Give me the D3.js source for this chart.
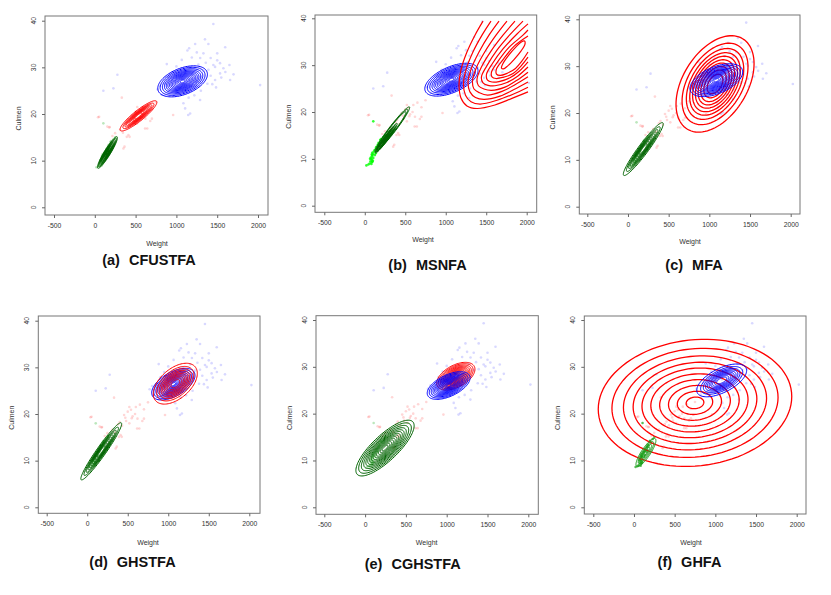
<html>
<head>
<script src="https://d3js.org/d3.v7.min.js"></script>
<style>
body { margin: 0; background: #fff; }
text { font-family: "Liberation Sans", Arial, sans-serif; }
</style>
</head>
<body>
<script>
const xTicks = [-500, 0, 500, 1000, 1500, 2000];
const yTicks = [0, 10, 20, 30, 40];
const panelTitles = [["(a)", "CFUSTFA"], ["(b)", "MSNFA"], ["(c)", "MFA"],
                     ["(d)", "GHSTFA"], ["(e)", "CGHSTFA"], ["(f)", "GHFA"]];

// hawks: [weight, culmen]
const rtPoints = [
  [1453,39.3],[1156,34.1],[1135,33.6],[1392,35.0],[1331,33.0],[1598,34.3],[1066,31.6],[882,30.7],
  [1189,32.1],[1292,32.0],[1453,30.5],[1535,30.9],[1576,29.8],[1535,28.7],[1474,27.3],[1658,27.3],
  [1486,25.7],[2026,26.2],[1086,22.3],[1107,21.2],[1168,20.1],[1145,19.8],[821,24.1],[770,25.3],
  [105,25.0],[228,25.5],[277,28.4],[1290,23.0],[1474,30.1],[1392,29.5],[1420,28.2],[1360,31.0],
  [1250,33.2],[1180,30.0],[1000,30.2],[950,29.0],[900,27.8],[860,26.5],[800,26.0],[1550,27.8],
  [1600,29.0],[1380,26.5],[1300,25.0],[1220,24.0],[1150,23.5],[1000,24.5],[1050,25.5],[1100,26.5],
  [1150,27.5],[1200,28.5],[1000,27.0],[950,26.0],[1050,28.0],[1100,29.0],[1250,27.0],[1300,28.0],
  [1180,26.0],[1080,27.3],[1020,25.8],[1120,25.0],[900,24.8],[1420,32.0],[1500,33.0],[1650,30.5],
  [1700,28.5],[1350,36.0],[1230,35.0],[1500,31.5],[1330,29.3],[1270,30.6],[980,28.3],[1440,26.4]
];
const chPoints = [
  [53,19.4],[154,17.3],[176,17.1],[249,15.9],[216,15.3],[310,16.6],[331,23.5],[392,15.1],
  [351,12.6],[364,13.0],[426,15.1],[616,16.9],[643,16.9],[412,15.5],[455,19.8],[500,20.5],
  [540,20.9],[590,20.0],[549,19.1],[480,18.5],[520,18.0],[430,17.5],[600,21.5],[650,22.0],
  [700,21.0],[380,17.8],[560,19.5],[620,19.0],[470,19.2],[400,18.3],[960,19.8],[183,17.2],
  [40,19.3],[345,16.0],[700,19.0],[680,18.5],[750,22.5],[520,21.5]
];
const ssPoints = [
  [60,9.0],[70,9.5],[80,10.0],[85,9.3],[90,10.5],[95,10.8],[100,11.0],[75,10.3],[88,9.8],
  [92,11.3],[105,10.2],[110,11.5],[120,11.8],[130,12.0],[140,12.5],[150,12.2],[160,13.0],
  [170,13.4],[180,13.2],[190,14.0],[200,14.2],[125,10.8],[135,11.2],
  [155,11.8],[165,12.8],[210,13.8],[230,14.6],[250,15.0],[105,18.0],[45,8.8],
  [65,10.0],[85,10.9],[100,9.6],[20,8.6],[82,8.9],[95,9.4]
];

// contour radii (mahalanobis)
const levelsStd = [2.19, 1.85, 1.61, 1.42, 1.26, 1.1, 0.95, 0.8, 0.63, 0.44];
const levelsDense = [2.19, 1.98, 1.78, 1.6, 1.44, 1.3, 1.16, 1.03, 0.9, 0.77, 0.64, 0.5, 0.36, 0.22];
const levelsEven = [2.19, 1.88, 1.62, 1.4, 1.2, 1.0, 0.8, 0.6, 0.4, 0.2];
const levelsFew = [2.19, 1.7, 1.25, 0.85, 0.5];
const levelsOuter = [2.19, 1.95, 1.72];

// [component, mean weight, mean culmen, sd weight, sd culmen, rho, levels]
const contoursA = [
  ["blue", 1076, 27.0, 139, 1.52, 0.45, "dense"],
  ["red", 535, 19.6, 103, 1.48, 0.9, "std"],
  ["dkgreen", 155, 11.75, 56, 1.55, 0.93, "dense"]
];
const contoursB = [
  ["blue", 1070, 26.9, 150, 1.6, 0.55, "dense"],
  ["dkgreen", 340, 16.3, 98, 2.19, 0.97, "outer"],
  ["dkgreen", 265, 14.4, 62, 1.45, 0.97, "dense"]
];
const contoursC = [
  ["red", 1070, 26.2, 219, 4.7, 0.42, "std"],
  ["blue", 1086, 27.0, 148, 1.6, 0.5, "dense"],
  ["dkgreen", 188, 12.3, 112, 2.58, 0.95, "std"]
];
const contoursD = [
  ["blue", 1063, 26.4, 122, 1.55, 0.55, "dense"],
  ["red", 1087, 26.5, 124, 2.0, 0.5, "std"],
  ["dkgreen", 173, 12.0, 115, 2.8, 0.96, "std"]
];
const contoursE = [
  ["red", 1112, 28.0, 107, 1.35, 0.5, "dense"],
  ["blue", 1024, 26.0, 120, 1.35, 0.55, "dense"],
  ["dkgreen", 244, 12.65, 163, 2.72, 0.8, "dense"]
];
const contoursF = [
  ["red", 750, 22.3, 543, 6.2, 0.1, "even"],
  ["blue", 1078, 27.1, 140, 1.6, 0.6, "std"],
  ["green", 147, 11.7, 56, 1.37, 0.85, "few"]
];

const msnfaRed = [
  [[1460,39.4],[1361,36.4],[1262,32.8],[1188,29.0],[1164,25.8],[1188,23.0],[1262,21.3],[1386,20.75],[1608,21.5],[1818,22.9],[2016,24.3]],
  [[1559,39.4],[1448,36.4],[1336,32.8],[1250,29.0],[1219,26.0],[1244,23.6],[1312,22.2],[1423,21.7],[1633,22.5],[1831,23.8],[2016,25.3]],
  [[1658,39.4],[1534,36.4],[1411,32.8],[1312,29.1],[1275,26.3],[1299,24.3],[1367,23.1],[1472,22.7],[1670,23.4],[1843,24.8],[2016,26.4]],
  [[1756,39.4],[1621,36.4],[1485,32.9],[1374,29.3],[1330,26.6],[1349,24.9],[1417,24.1],[1516,23.6],[1695,24.4],[1855,25.8],[2016,27.5]],
  [[1855,39.4],[1707,36.4],[1559,33.0],[1441,29.6],[1386,27.0],[1404,25.6],[1472,24.9],[1565,24.6],[1732,25.3],[1874,26.7],[2016,28.5]],
  [[1954,39.4],[1793,36.5],[1633,33.2],[1509,29.9],[1441,27.5],[1460,26.2],[1522,25.7],[1608,25.6],[1756,26.3],[1892,27.7],[2016,29.6]],
  [[2016,38.8],[1880,36.65],[1707,33.45],[1577,30.35],[1503,28.0],[1516,26.8],[1571,26.4],[1658,26.5],[1793,27.3],[1911,28.75],[2016,30.7]],
  [[2016,37.5],[1954,36.4],[1781,33.8],[1645,30.8],[1565,28.5],[1571,27.5],[1621,27.15],[1707,27.4],[1831,28.2],[1929,29.8],[2016,31.7]],
  [[2016,36.2],[1843,34.0],[1713,31.3],[1627,29.2],[1627,28.1],[1670,27.8],[1750,28.2],[1861,29.3],[1942,30.9],[2016,32.8]]
];
const msnfaRedInner = [[1688,29.4],[1707,30.35],[1781,32.2],[1868,33.9],[1929,34.9],[1973,35.15],
                       [1979,34.5],[1929,33.0],[1843,31.2],[1763,29.8],[1713,29.2]];

const levelSets = {std: levelsStd, dense: levelsDense, even: levelsEven, few: levelsFew, outer: levelsOuter};
const lineColor = {blue: "#0000ff", red: "#ff0000", dkgreen: "#006400", green: "#1e9e1e"};

const panels = [
  {box: [45, 16, 268, 215], xr: [54, 258], yr: [207.3, 20.7], title: [149, 265], xlab: [157, 245.5], cont: contoursA, ss: "#22b022", ssOp: 0.3},
  {box: [315, 15, 536.7, 212.3], xr: [324.3, 526.7], yr: [205.7, 18.3], title: [427.5, 270], xlab: [423, 242], cont: contoursB, ss: "#00ff00", ssOp: 0.8},
  {box: [579.3, 15, 800, 214], xr: [587.3, 790.7], yr: [206.7, 19.3], title: [694, 270], xlab: [690, 244], cont: contoursC, ss: "#22b022", ssOp: 0.3},
  {box: [38.3, 316, 260, 513.3], xr: [46.7, 249.3], yr: [507.3, 320.7], title: [132.5, 567], xlab: [148, 545], cont: contoursD, ss: "#22b022", ssOp: 0.3},
  {box: [316, 315.7, 538.3, 514.3], xr: [324.3, 528.3], yr: [507.3, 320], title: [412.7, 568.5], xlab: [426.7, 545], cont: contoursE, ss: "#22b022", ssOp: 0.3},
  {box: [584.3, 316, 806, 514], xr: [593.3, 796.7], yr: [507.3, 320], title: [689.5, 567], xlab: [691, 545], cont: contoursF, ss: "#10a010", ssOp: 0.7}
];

const svg = d3.select("body").append("svg")
    .attr("width", 831)
    .attr("height", 595)
    .style("background", "#fff");

function ellipsePoints(c, r) {
  const s = Math.sqrt(1 - c[5] * c[5]);
  return d3.range(0, 2 * Math.PI, Math.PI / 48).map(function(t) {
    const u = Math.cos(t), v = Math.sin(t);
    return [c[1] + r * c[3] * u, c[2] + r * c[4] * (c[5] * u + s * v)];
  });
}

panels.forEach(function(p, i) {
  const [l, t, r, b] = p.box;
  const x = d3.scaleLinear().domain([-500, 2000]).range(p.xr);
  const y = d3.scaleLinear().domain([0, 40]).range(p.yr);
  const g = svg.append("g");

  svg.append("clipPath").attr("id", "clip" + i)
    .append("rect").attr("x", l).attr("y", t).attr("width", r - l).attr("height", b - t);
  const plot = g.append("g").attr("clip-path", "url(#clip" + i + ")");

  // points
  function dots(data, col, op) {
    plot.append("g").selectAll("circle").data(data).enter().append("circle")
      .attr("cx", function(d) { return x(d[0]); })
      .attr("cy", function(d) { return y(d[1]); })
      .attr("r", 1.3)
      .attr("fill", col)
      .attr("fill-opacity", op);
  }
  dots(rtPoints, "#3a3aff", 0.2);
  dots(chPoints, "#ff3030", 0.2);
  dots(ssPoints, p.ss, p.ssOp);

  const line = d3.line()
    .x(function(d) { return x(d[0]); })
    .y(function(d) { return y(d[1]); });

  // contours
  p.cont.forEach(function(c) {
    const lev = levelSets[c[6]];
    plot.append("g").selectAll("path").data(lev).enter().append("path")
      .attr("d", function(rad) { return line.curve(d3.curveLinearClosed)(ellipsePoints(c, rad)); })
      .attr("fill", "none")
      .attr("stroke", lineColor[c[0]])
      .attr("stroke-width", c[0] == "red" && (i == 2 || i == 5) ? 1.3 : 1);
  });

  if (i == 1) {
    plot.append("g").selectAll("path").data(msnfaRed).enter().append("path")
      .attr("d", function(d) { return line.curve(d3.curveCatmullRom)(d); })
      .attr("fill", "none").attr("stroke", lineColor.red).attr("stroke-width", 1.2);
    plot.append("path")
      .attr("d", line.curve(d3.curveCatmullRomClosed)(msnfaRedInner))
      .attr("fill", "none").attr("stroke", lineColor.red).attr("stroke-width", 1.2);
  }

  // frame
  g.append("rect")
    .attr("x", l).attr("y", t).attr("width", r - l).attr("height", b - t)
    .attr("fill", "none").attr("stroke", "#777").attr("stroke-width", 1);

  // x axis
  const xa = g.append("g")
    .attr("transform", "translate(0," + b + ")")
    .style("color", "#666")
    .call(d3.axisBottom(x).tickValues(xTicks).tickSize(3).tickPadding(5)
      .tickFormat(function(d) { return String(d); }));
  xa.select(".domain").remove();
  xa.selectAll("text").attr("font-size", 6.8).attr("fill", "#333")
    .style("font-family", "Liberation Sans, Arial, sans-serif");

  // y axis, labels rotated like R
  const ya = g.append("g")
    .attr("transform", "translate(" + l + ",0)")
    .style("color", "#666")
    .call(d3.axisLeft(y).tickValues(yTicks).tickSize(3).tickFormat(""));
  ya.select(".domain").remove();
  g.append("g").selectAll("text").data(yTicks).enter().append("text")
    .attr("transform", function(d) { return "translate(" + (l - 9) + "," + y(d) + ") rotate(-90)"; })
    .attr("text-anchor", "middle")
    .attr("font-size", 6.8)
    .attr("fill", "#333")
    .text(function(d) { return d; });

  g.append("text")
    .attr("x", p.xlab[0]).attr("y", p.xlab[1])
    .attr("text-anchor", "middle").attr("font-size", 7).attr("fill", "#333")
    .text("Weight");
  g.append("text")
    .attr("transform", "translate(" + (l - 24) + "," + ((t + b) / 2 + 3) + ") rotate(-90)")
    .attr("text-anchor", "middle").attr("font-size", 7).attr("fill", "#333")
    .text("Culmen");

  const ttl = g.append("text")
    .attr("x", p.title[0]).attr("y", p.title[1])
    .attr("text-anchor", "middle")
    .attr("font-size", 14.5).attr("font-weight", "bold").attr("fill", "#111");
  ttl.append("tspan").text(panelTitles[i][0]);
  ttl.append("tspan").attr("dx", 9).text(panelTitles[i][1]);
});
</script>
</body>
</html>
